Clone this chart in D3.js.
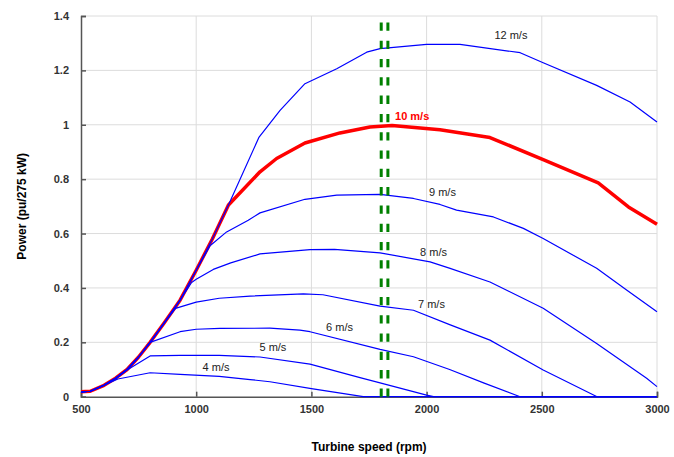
<!DOCTYPE html>
<html>
<head>
<meta charset="utf-8">
<script src="https://cdn.jsdelivr.net/npm/d3@7/dist/d3.min.js"></script>
<style>
  body { margin: 0; background: #fff; }
  svg text { font-family: "Liberation Sans", Arial, sans-serif; }
</style>
</head>
<body>
<div id="chart"></div>
<script>
// rpm / pu points
var speeds4 = [[500,0.018],[540,0.02],[600,0.042],[660,0.065],[800,0.088],[930,0.082],[1100,0.075],[1234,0.063],[1320,0.055],[1500,0.03],[1725,0],[3000,0]];
var speeds5 = [[500,0.018],[540,0.02],[600,0.042],[650,0.066],[700,0.098],[800,0.15],[930,0.152],[1100,0.152],[1277,0.146],[1494,0.12],[1711,0.07],[1798,0.051],[2000,0.006],[2030,0],[3000,0]];
var speeds6 = [[500,0.018],[540,0.02],[600,0.042],[650,0.068],[700,0.1],[750,0.146],[800,0.2],[930,0.239],[1000,0.248],[1103,0.251],[1320,0.252],[1450,0.245],[1494,0.239],[1798,0.174],[1943,0.147],[2100,0.1],[2250,0.05],[2406,0],[3000,0]];
var speeds7 = [[500,0.018],[540,0.02],[600,0.042],[650,0.068],[700,0.1],[750,0.146],[800,0.2],[860,0.27],[910,0.325],[1000,0.348],[1100,0.362],[1234,0.37],[1465,0.378],[1550,0.375],[1798,0.333],[1943,0.318],[2100,0.265],[2275,0.208],[2506,0.098],[2740,0],[3000,0]];
var speeds8 = [[500,0.018],[540,0.02],[600,0.042],[650,0.068],[700,0.1],[750,0.146],[800,0.2],[860,0.27],[930,0.355],[980,0.42],[1000,0.432],[1074,0.468],[1150,0.492],[1277,0.525],[1494,0.541],[1600,0.542],[1798,0.529],[2015,0.496],[2102,0.472],[2275,0.422],[2506,0.325],[2738,0.196],[2955,0.068],[3000,0.037]];
var speeds9 = [[500,0.018],[540,0.02],[600,0.042],[650,0.068],[700,0.1],[750,0.146],[800,0.2],[860,0.27],[930,0.355],[1000,0.465],[1060,0.555],[1132,0.606],[1226,0.649],[1277,0.676],[1472,0.726],[1610,0.741],[1798,0.744],[1943,0.729],[2058,0.707],[2130,0.686],[2290,0.661],[2420,0.619],[2506,0.582],[2738,0.472],[2868,0.392],[3000,0.312]];
var speeds10 = [[500,0.018],[540,0.02],[600,0.042],[650,0.068],[700,0.1],[750,0.146],[800,0.2],[860,0.27],[930,0.355],[1000,0.465],[1070,0.58],[1140,0.705],[1277,0.827],[1349,0.876],[1472,0.933],[1624,0.97],[1754,0.992],[1850,0.997],[2058,0.982],[2275,0.953],[2506,0.872],[2745,0.786],[2876,0.698],[3000,0.634]];
var speeds12 = [[500,0.018],[540,0.02],[600,0.042],[650,0.068],[700,0.1],[750,0.146],[800,0.2],[860,0.27],[930,0.355],[1000,0.465],[1070,0.58],[1140,0.705],[1273,0.955],[1364,1.053],[1472,1.151],[1610,1.206],[1740,1.267],[1798,1.28],[2000,1.296],[2145,1.296],[2406,1.265],[2506,1.228],[2738,1.145],[2883,1.084],[3000,1.01]];

var blueSeries = [speeds4, speeds5, speeds6, speeds7, speeds8, speeds9, speeds12];
var redSeries = speeds10;

var curveLabels = [
  { text: "12 m/s", rpm: 2366, pu: 1.329 },
  { text: "9 m/s", rpm: 2069, pu: 0.753 },
  { text: "8 m/s", rpm: 2030, pu: 0.533 },
  { text: "7 m/s", rpm: 2021, pu: 0.339 },
  { text: "6 m/s", rpm: 1622, pu: 0.257 },
  { text: "5 m/s", rpm: 1333, pu: 0.184 },
  { text: "4 m/s", rpm: 1086, pu: 0.108 }
];
var redLabel = { text: "10 m/s", rpm: 1863, pu: 1.032 };

var markerSpeeds = [1803, 1832];
var xTicks = [500, 1000, 1500, 2000, 2500, 3000];
var yTicks = [0, 0.2, 0.4, 0.6, 0.8, 1, 1.2, 1.4];

var w = 674, h = 457;
var mLeft = 81, mRight = 657, mTop = 16, mBottom = 396.7;

var svg = d3.select("#chart").append("svg")
  .attr("width", w)
  .attr("height", h);

var x = d3.scaleLinear().domain([500, 3000]).range([mLeft, mRight]);
var y = d3.scaleLinear().domain([0, 1.4]).range([mBottom, mTop]);

// grid
svg.selectAll("line.hgrid")
  .data(yTicks.slice(1))
  .enter()
  .append("line")
  .attr("class", "hgrid")
  .attr("x1", mLeft).attr("x2", mRight)
  .attr("y1", function(d) { return y(d); })
  .attr("y2", function(d) { return y(d); })
  .attr("stroke", "#dcdcdc")
  .attr("stroke-width", 1);

svg.selectAll("line.vgrid")
  .data(xTicks.slice(1))
  .enter()
  .append("line")
  .attr("class", "vgrid")
  .attr("y1", mTop).attr("y2", mBottom)
  .attr("x1", function(d) { return x(d); })
  .attr("x2", function(d) { return x(d); })
  .attr("stroke", "#dcdcdc")
  .attr("stroke-width", 1);

// axes
var xAxis = d3.axisBottom(x).tickValues(xTicks).tickSize(-5).tickPadding(9).tickFormat(d3.format("d"));
var yAxis = d3.axisLeft(y).tickValues(yTicks).tickSize(-5).tickPadding(12).tickFormat(function(d) { return d; });

var gx = svg.append("g").attr("transform", "translate(0," + mBottom + ")").call(xAxis);
var gy = svg.append("g").attr("transform", "translate(" + mLeft + ",0)").call(yAxis);

[gx, gy].forEach(function(g) {
  g.select(".domain").attr("stroke", "#555").attr("stroke-width", 1.5);
  g.selectAll(".tick line").attr("stroke", "#555").attr("stroke-width", 1.5);
  g.selectAll(".tick text")
    .attr("font-family", "Liberation Sans, Arial, sans-serif")
    .attr("font-size", "11px")
    .attr("font-weight", "bold")
    .attr("fill", "#333");
});

// curves (red underneath, blue drawn over it)
var line = d3.line()
  .x(function(d) { return x(d[0]); })
  .y(function(d) { return y(d[1]); });

svg.append("path")
  .datum(redSeries)
  .attr("d", line)
  .attr("fill", "none")
  .attr("stroke", "#ff0000")
  .attr("stroke-width", 3.5)
  .attr("stroke-linejoin", "round");

svg.selectAll("path.blue")
  .data(blueSeries)
  .enter()
  .append("path")
  .attr("class", "blue")
  .attr("d", line)
  .attr("fill", "none")
  .attr("stroke", "#0000ff")
  .attr("stroke-width", 1.2)
  .attr("stroke-linejoin", "round");

// dashed markers
svg.selectAll("line.marker")
  .data(markerSpeeds)
  .enter()
  .append("line")
  .attr("class", "marker")
  .attr("x1", function(d) { return x(d); })
  .attr("x2", function(d) { return x(d); })
  .attr("y1", mBottom).attr("y2", mTop)
  .attr("stroke", "#008000")
  .attr("stroke-width", 3)
  .attr("stroke-dasharray", "8.3,10");

// labels
svg.selectAll("text.clabel")
  .data(curveLabels)
  .enter()
  .append("text")
  .attr("class", "clabel")
  .attr("x", function(d) { return x(d.rpm); })
  .attr("y", function(d) { return y(d.pu); })
  .attr("dy", "0.35em")
  .attr("text-anchor", "middle")
  .attr("font-size", "11px")
  .attr("fill", "#222")
  .text(function(d) { return d.text; });

svg.append("text")
  .attr("x", x(redLabel.rpm))
  .attr("y", y(redLabel.pu))
  .attr("dy", "0.35em")
  .attr("font-size", "11px")
  .attr("font-weight", "bold")
  .attr("fill", "#ff0000")
  .text(redLabel.text);

// axis titles
svg.append("text")
  .attr("x", (mLeft + mRight) / 2)
  .attr("y", 451)
  .attr("text-anchor", "middle")
  .attr("font-size", "12px")
  .attr("font-weight", "bold")
  .attr("fill", "#000")
  .text("Turbine speed (rpm)");

svg.append("text")
  .attr("transform", "translate(26," + ((mTop + mBottom) / 2) + ") rotate(-90)")
  .attr("text-anchor", "middle")
  .attr("font-size", "12px")
  .attr("font-weight", "bold")
  .attr("fill", "#000")
  .text("Power (pu/275 kW)");
</script>
</body>
</html>
